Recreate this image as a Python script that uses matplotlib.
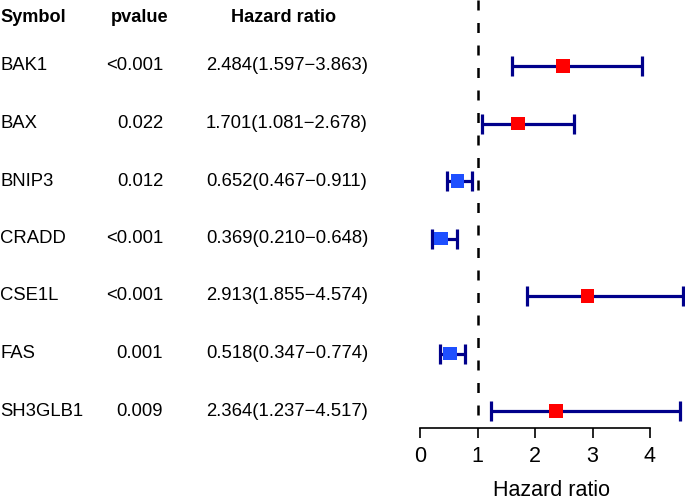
import matplotlib
matplotlib.use("Agg")
import matplotlib.pyplot as plt

symbols = ["BAK1", "BAX", "BNIP3", "CRADD", "CSE1L", "FAS", "SH3GLB1"]
pvalues = ["<0.001", "0.022", "0.012", "<0.001", "<0.001", "0.001", "0.009"]
hr = [2.484, 1.701, 0.652, 0.369, 2.913, 0.518, 2.364]
hr_low = [1.597, 1.081, 0.467, 0.210, 1.855, 0.347, 1.237]
hr_high = [3.863, 2.678, 0.911, 0.648, 4.574, 0.774, 4.517]
xticks = [0, 1, 2, 3, 4]

plt.rcParams['font.family'] = ['Liberation Sans', 'DejaVu Sans']

W, H = 685, 501
fig = plt.figure(figsize=(W / 100, H / 100), dpi=100)

def fx(px):
    return px / W

def fy(py):
    return 1 - py / H

row0, step = 66.0, 57.5
fs = 13.3

# header
fig.text(fx(0), fy(17), "Symbol", ha="left", va="center", fontsize=13.1, fontweight="bold")
fig.text(fx(139.5), fy(17), "pvalue", ha="center", va="center", fontsize=13.1, fontweight="bold")
fig.text(fx(284), fy(17), "Hazard ratio", ha="center", va="center", fontsize=13.1, fontweight="bold")

for i, (s, p, h, lo, hi) in enumerate(zip(symbols, pvalues, hr, hr_low, hr_high)):
    y = row0 + i * step
    fig.text(fx(0), fy(y), s, ha="left", va="center", fontsize=fs)
    fig.text(fx(163), fy(y), p, ha="right", va="center", fontsize=fs)
    fig.text(fx(287), fy(y), f"{h:.3f}({lo:.3f}\u2212{hi:.3f})", ha="center", va="center", fontsize=fs)

# forest axes
x0px, unit = 420.0, 57.5
ax = fig.add_axes([fx(x0px), 0, 1 - fx(x0px), 1])
ax.set_xlim(0, (W - x0px) / unit)
ax.set_ylim((H - row0) / step, -row0 / step)
ax.patch.set_visible(False)

axis_y = (427.5 - row0) / step
ax.vlines(1, -row0 / step, axis_y, colors="black", linewidth=1.8, linestyles=(0, (4, 5)), zorder=1)

n = len(symbols)
ys = list(range(n))
ax.errorbar(hr, ys, xerr=[[h - l for h, l in zip(hr, hr_low)], [u - h for h, u in zip(hr, hr_high)]],
            fmt="none", ecolor="#00008B", elinewidth=2.3, capsize=7, capthick=2.3, zorder=2)
colors = ["#FF0000" if h > 1 else "#1E4FFF" for h in hr]
ax.scatter(hr, ys, marker="s", s=95, c=colors, edgecolors="none", zorder=3)

for side in ["top", "right", "left"]:
    ax.spines[side].set_visible(False)
ax.spines["bottom"].set_position(("data", axis_y))
ax.spines["bottom"].set_bounds(0, 4)
ax.spines["bottom"].set_linewidth(1.2)
ax.set_xticks(xticks)
ax.set_xticklabels([str(t) for t in xticks], fontsize=15.5)
ax.tick_params(axis="x", length=7.5, width=1.2, pad=5.5)
ax.set_yticks([])
fig.text(fx(551.5), fy(496), "Hazard ratio", ha="center", va="baseline", fontsize=15.5)

fig.savefig("out.png", dpi=100)
